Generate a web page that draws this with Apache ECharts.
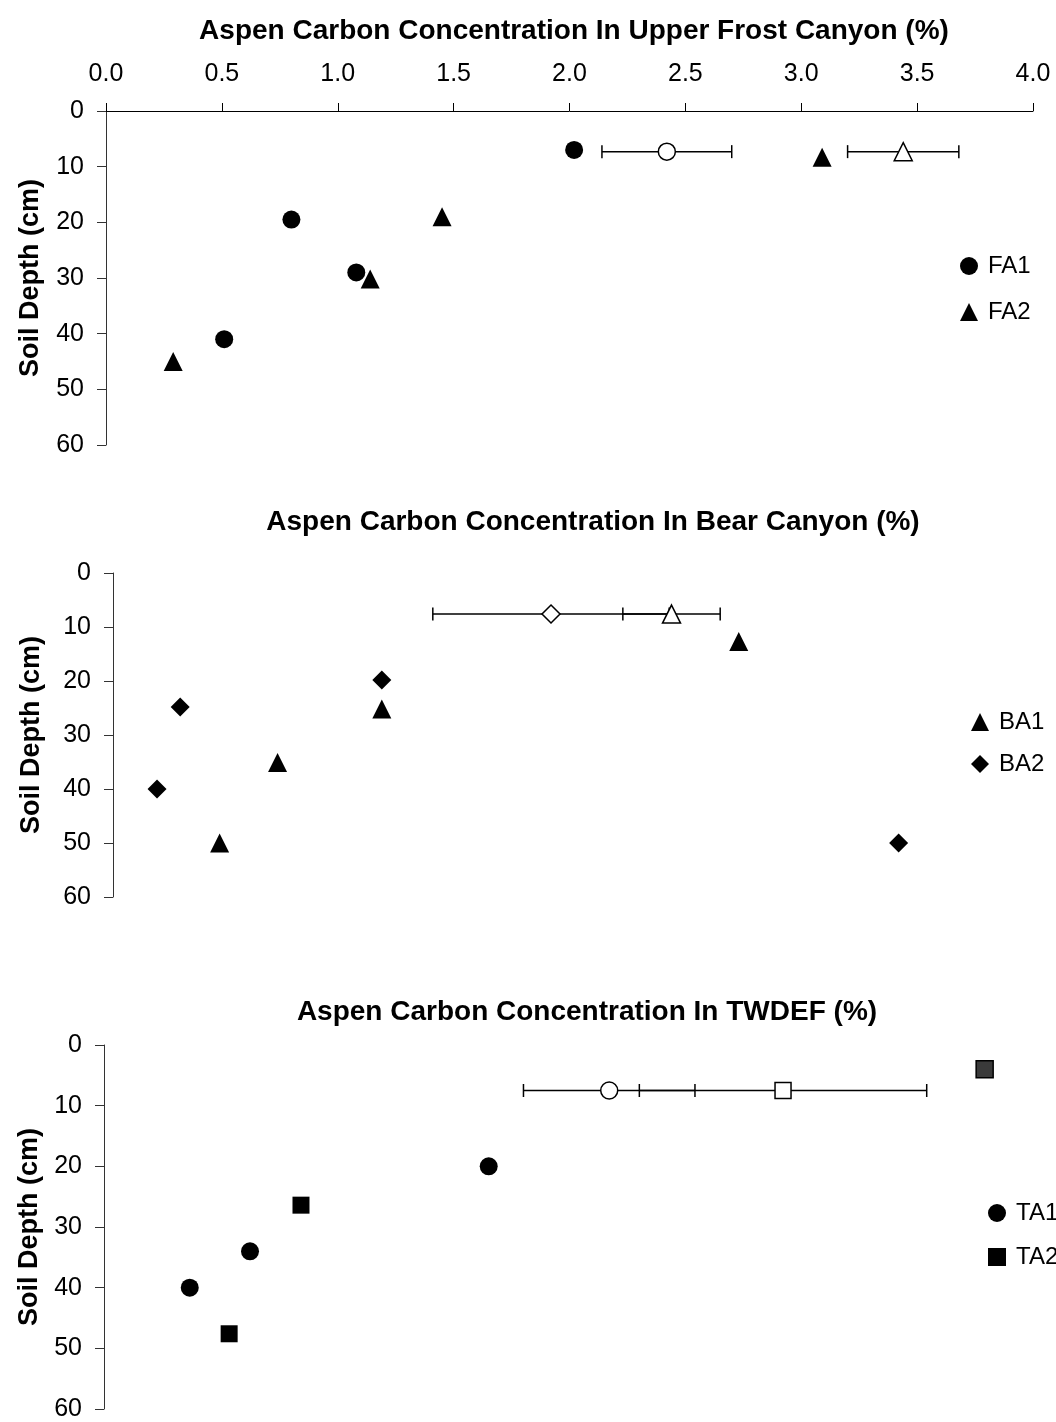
<!DOCTYPE html>
<html>
<head>
<meta charset="utf-8">
<script src="https://cdn.jsdelivr.net/npm/echarts@6/dist/echarts.min.js"></script>
<style>
  html, body { margin: 0; padding: 0; background: #fff; }
  #chart { width: 1056px; height: 1422px; }
</style>
</head>
<body>
<div id="chart"></div>
<script>
// Carbon concentration (%) against soil depth (cm) for three aspen stands.

// Upper Frost Canyon
const fa1Carbon = [2.02, 0.80, 1.08, 0.51];
const fa1Depth  = [7.0, 19.5, 29.0, 41.0];
const fa2Carbon = [3.09, 1.45, 1.14, 0.29];
const fa2Depth  = [8.3, 19.0, 30.2, 45.0];
// site means with error range: [carbon, depth, error]
const fa1Mean = [2.42, 7.3, 0.28];
const fa2Mean = [3.44, 7.3, 0.24];

// Bear Canyon
const ba1Carbon = [2.70, 1.16, 0.71, 0.46];
const ba1Depth  = [12.7, 25.2, 35.1, 50.0];
const ba2Carbon = [1.16, 0.29, 0.19, 3.39];
const ba2Depth  = [19.8, 24.8, 40.0, 50.0];
const ba2Mean = [1.89, 7.6, 0.51];
const ba1Mean = [2.41, 7.6, 0.21];

// TWDEF
const ta1Carbon = [1.66, 0.63, 0.37];
const ta1Depth  = [20.0, 34.0, 40.0];
const ta2Carbon = [3.80, 0.85, 0.54];
const ta2Depth  = [4.0, 26.4, 47.6];
const ta1Mean = [2.18, 7.5, 0.37];
const ta2Mean = [2.93, 7.5, 0.62];

// Axis ticks
const carbonTicks = ['0.0', '0.5', '1.0', '1.5', '2.0', '2.5', '3.0', '3.5', '4.0'];
const depthTicks  = ['0', '10', '20', '30', '40', '50', '60'];

const titles = [
  'Aspen Carbon Concentration In Upper Frost Canyon (%)',
  'Aspen Carbon Concentration In Bear Canyon (%)',
  'Aspen Carbon Concentration In TWDEF (%)'
];

const FONT = '"Liberation Sans", Arial, Helvetica, sans-serif';
const pair = (xs, ys) => xs.map((x, i) => [x, ys[i]]);

// plot areas in pixels
const grids = [
  { left: 106, top: 111, width: 927, height: 334 },
  { left: 113, top: 573, width: 927, height: 324 },
  { left: 104, top: 1045, width: 927, height: 364 }
];
const nameGaps = [62, 68, 60];

function xAxisFor(i) {
  const shown = i === 0;
  return {
    gridIndex: i, type: 'value', min: 0, max: 4, interval: 0.5,
    position: 'top', show: shown,
    axisLine: { show: shown, onZero: false, lineStyle: { color: '#000', width: 1 } },
    axisTick: { show: shown, inside: false, length: 8, lineStyle: { color: '#000' } },
    axisLabel: {
      show: shown, margin: 24, color: '#000', fontSize: 25, fontFamily: FONT,
      formatter: v => carbonTicks[Math.round(v / 0.5)]
    },
    splitLine: { show: false }
  };
}

function yAxisFor(i) {
  return {
    gridIndex: i, type: 'value', min: 0, max: 60, interval: 10, inverse: true,
    name: 'Soil Depth (cm)', nameLocation: 'middle', nameRotate: 90, nameGap: nameGaps[i],
    nameTextStyle: { color: '#000', fontSize: 27, fontWeight: 'bold', fontFamily: FONT },
    axisLine: { show: true, onZero: false, lineStyle: { color: '#333', width: 1 } },
    axisTick: { show: true, inside: false, length: 9, lineStyle: { color: '#333' } },
    axisLabel: {
      margin: 22, color: '#000', fontSize: 25, fontFamily: FONT,
      formatter: v => depthTicks[Math.round(v / 10)]
    },
    splitLine: { show: false }
  };
}

function filled(name, i, symbol, size, data) {
  return {
    name, type: 'scatter', xAxisIndex: i, yAxisIndex: i, symbol, symbolSize: size,
    itemStyle: { color: '#000', borderColor: '#000', borderWidth: 0, opacity: 1 },
    emphasis: { disabled: true }, z: 5, data
  };
}

function openMarker(i, symbol, size, mean) {
  return {
    type: 'scatter', xAxisIndex: i, yAxisIndex: i, symbol, symbolSize: size,
    itemStyle: { color: '#fff', borderColor: '#000', borderWidth: 1.5, opacity: 1 },
    emphasis: { disabled: true }, z: 6, data: [[mean[0], mean[1]]]
  };
}

function errorBar(i, mean) {
  return {
    type: 'custom', xAxisIndex: i, yAxisIndex: i, z: 4, silent: true,
    data: [mean],
    renderItem: (params, api) => {
      const x = api.value(0), y = api.value(1), e = api.value(2);
      const a = api.coord([x - e, y]);
      const b = api.coord([x + e, y]);
      const cap = 6.5;
      const style = { stroke: '#000', lineWidth: 1.5 };
      return {
        type: 'group',
        children: [
          { type: 'line', shape: { x1: a[0], y1: a[1], x2: b[0], y2: b[1] }, style },
          { type: 'line', shape: { x1: a[0], y1: a[1] - cap, x2: a[0], y2: a[1] + cap }, style },
          { type: 'line', shape: { x1: b[0], y1: b[1] - cap, x2: b[0], y2: b[1] + cap }, style }
        ]
      };
    }
  };
}

const legendText = { color: '#000', fontSize: 24, fontFamily: FONT, lineHeight: 24, padding: [0, 0, 0, 5] };

const option = {
  animation: false,
  backgroundColor: '#fff',
  title: [
    { text: titles[0], left: 569, top: 12, textAlign: 'center' },
    { text: titles[1], left: 588, top: 503, textAlign: 'center' },
    { text: titles[2], left: 582, top: 993, textAlign: 'center' }
  ].map(t => Object.assign(t, {
    textStyle: { color: '#000', fontSize: 28, fontWeight: 'bold', fontFamily: FONT }
  })),
  legend: [
    { left: 955, top: 249, itemGap: 22,
      data: [{ name: 'FA1', icon: 'circle' }, { name: 'FA2', icon: 'triangle' }] },
    { left: 966, top: 705, itemGap: 18,
      data: [{ name: 'BA1', icon: 'triangle' }, { name: 'BA2', icon: 'diamond' }] },
    { left: 983, top: 1196, itemGap: 20,
      data: [{ name: 'TA1', icon: 'circle' }, { name: 'TA2', icon: 'rect' }] }
  ].map(l => Object.assign(l, {
    orient: 'vertical', itemWidth: 18, itemHeight: 18, selectedMode: false,
    textStyle: legendText
  })),
  grid: grids.map(g => Object.assign({ containLabel: false }, g)),
  xAxis: [0, 1, 2].map(xAxisFor),
  yAxis: [0, 1, 2].map(yAxisFor),
  series: [
    errorBar(0, fa1Mean), errorBar(0, fa2Mean),
    filled('FA1', 0, 'circle', 18, pair(fa1Carbon, fa1Depth)),
    filled('FA2', 0, 'triangle', [19, 19], pair(fa2Carbon, fa2Depth)),
    openMarker(0, 'circle', 17, fa1Mean),
    openMarker(0, 'triangle', [18, 18], fa2Mean),

    errorBar(1, ba2Mean), errorBar(1, ba1Mean),
    filled('BA1', 1, 'triangle', [19, 19], pair(ba1Carbon, ba1Depth)),
    filled('BA2', 1, 'diamond', [19, 19], pair(ba2Carbon, ba2Depth)),
    openMarker(1, 'diamond', [18, 18], ba2Mean),
    openMarker(1, 'triangle', [18, 18], ba1Mean),

    errorBar(2, ta1Mean), errorBar(2, ta2Mean),
    filled('TA1', 2, 'circle', 18, pair(ta1Carbon, ta1Depth)),
    filled('TA2', 2, 'rect', 17, pair(ta2Carbon, ta2Depth).map((p, i) =>
      i === 0 ? { value: p, itemStyle: { color: '#3a3a3a', borderColor: '#000', borderWidth: 1.5 } } : p)),
    openMarker(2, 'circle', 17, ta1Mean),
    openMarker(2, 'rect', 16, ta2Mean)
  ]
};

const chart = echarts.init(document.getElementById('chart'), null, { renderer: 'canvas' });
chart.setOption(option);
</script>
</body>
</html>
